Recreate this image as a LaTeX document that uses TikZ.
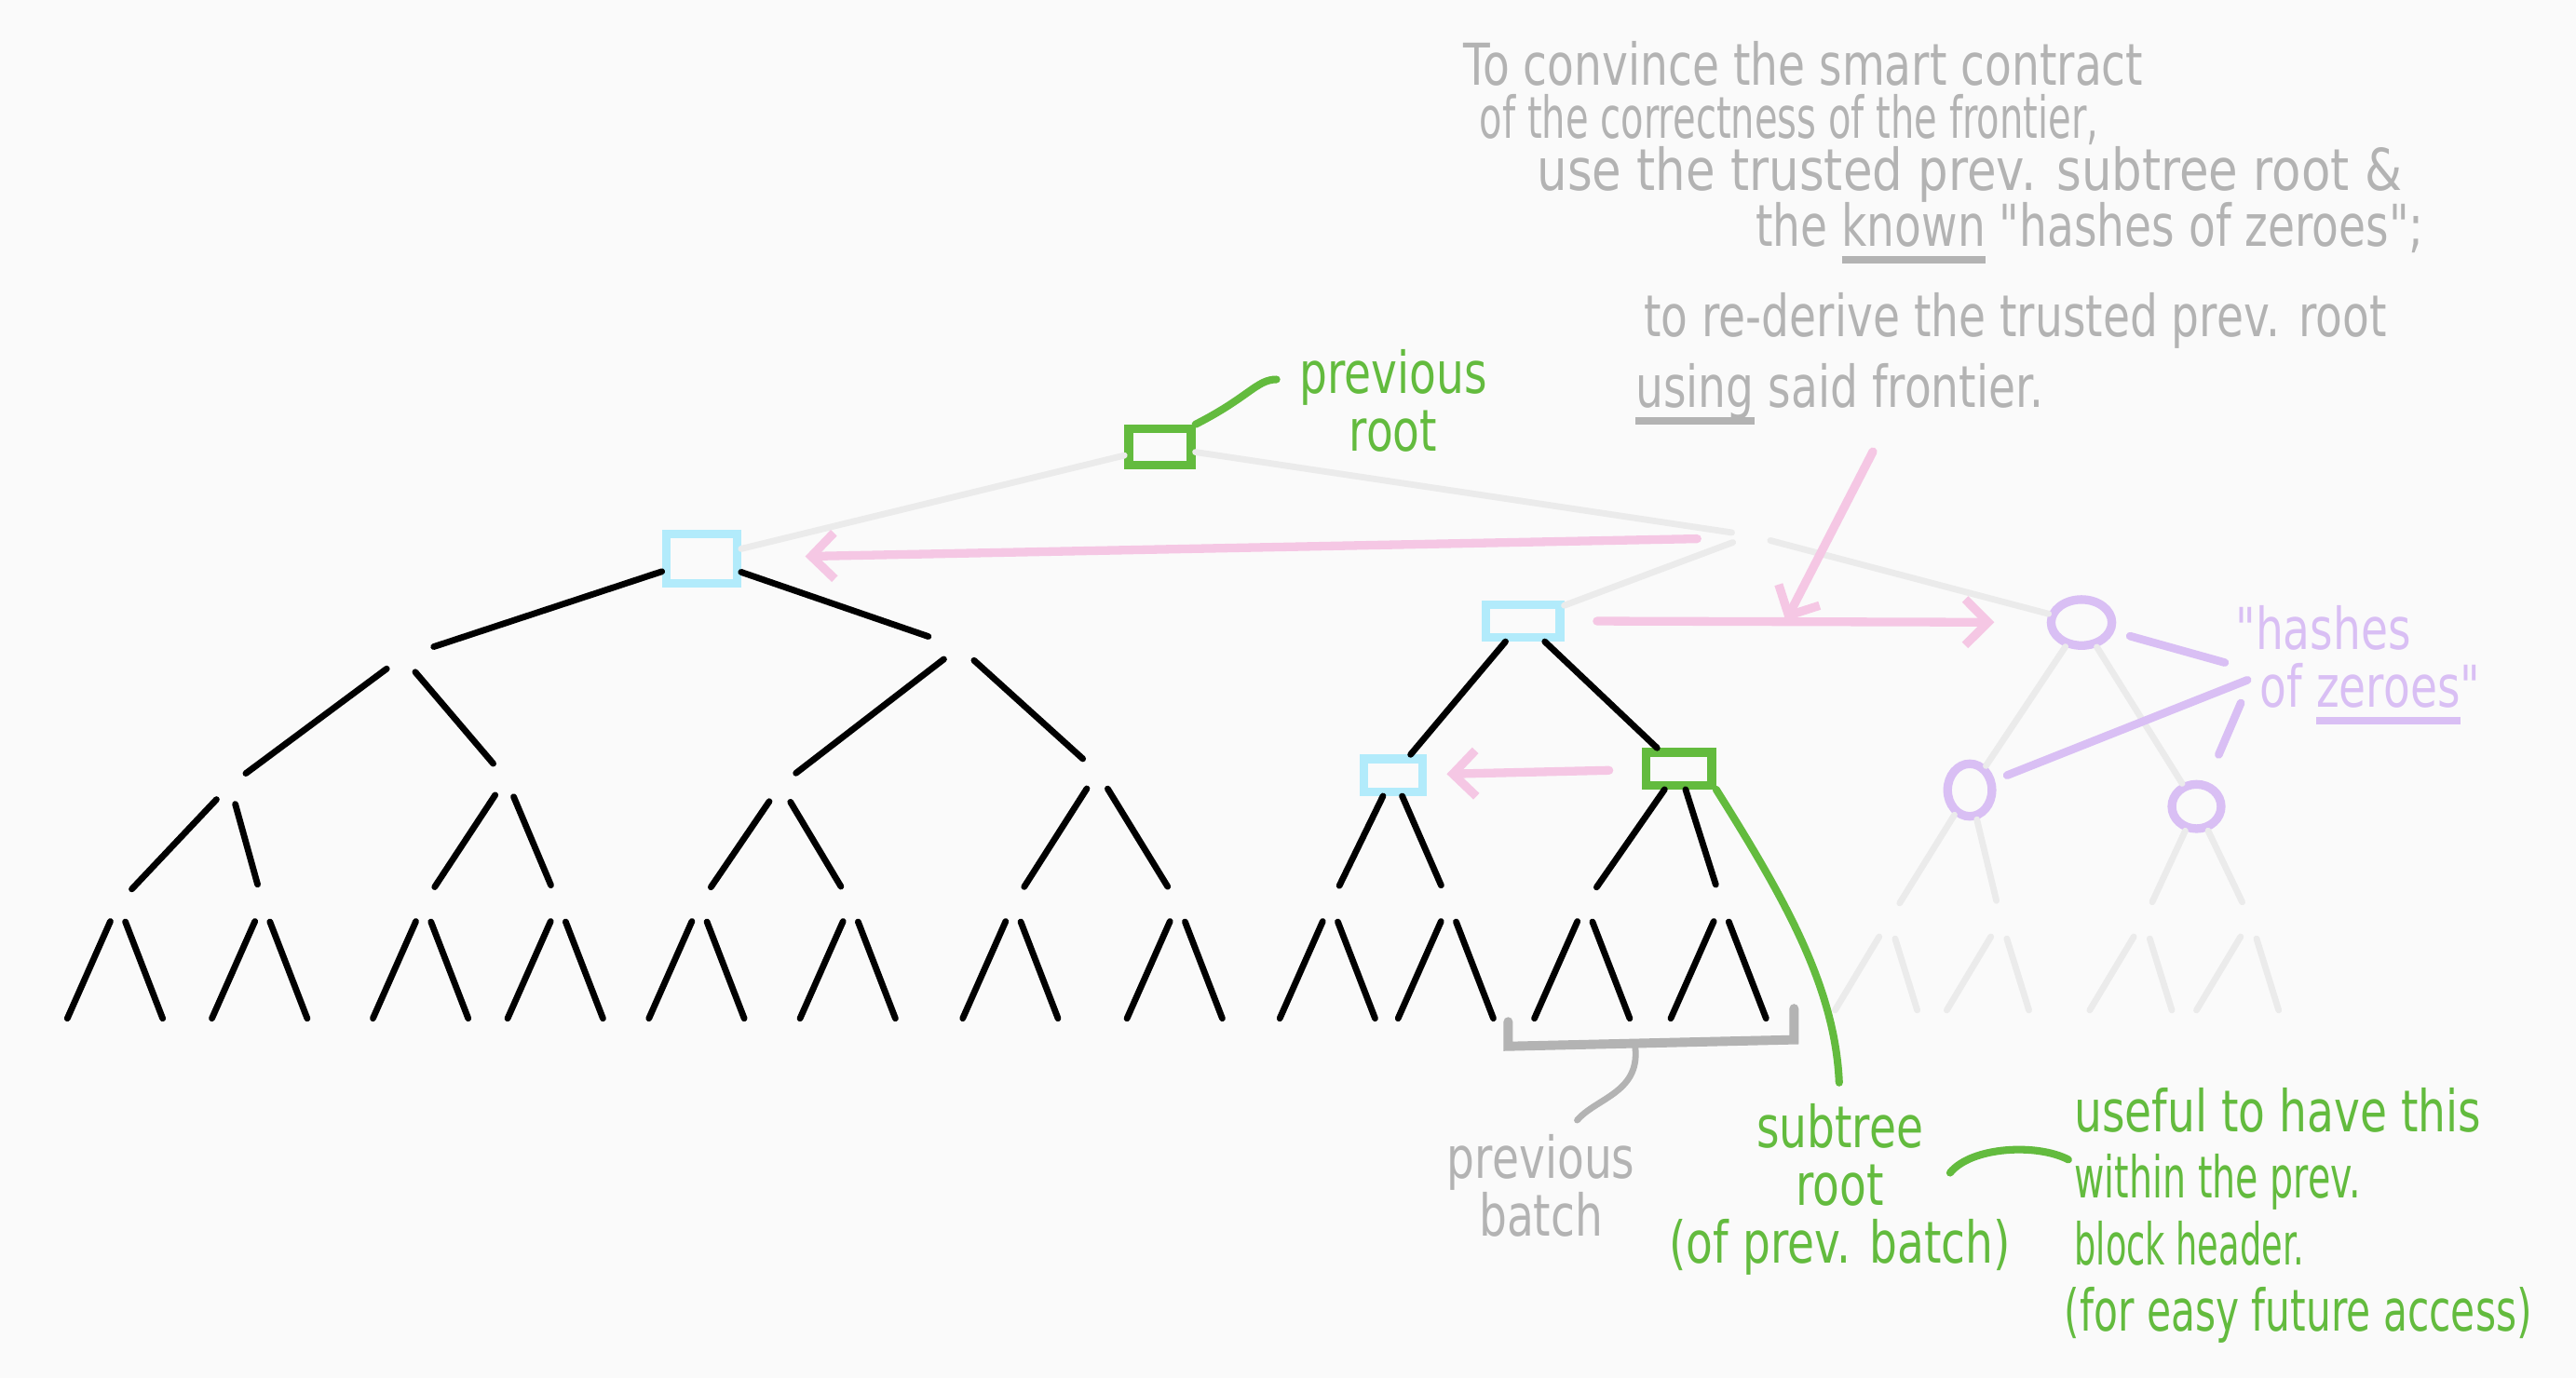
\documentclass[tikz,border=0pt]{standalone}
\usepackage{fontspec}
\newfontfamily\hand{DejaVu Sans}[FakeStretch=0.76]
\usetikzlibrary{arrows.meta,shapes.geometric,positioning}
\definecolor{paper}{HTML}{FAFAFA}
\definecolor{ghostgray}{HTML}{EBEBEB}
\definecolor{notegray}{HTML}{B3B3B3}
\definecolor{handgreen}{HTML}{63BB3E}
\definecolor{frontblue}{HTML}{B2EBFB}
\definecolor{arrowpink}{HTML}{F5C7E4}
\definecolor{zeropurple}{HTML}{D9BFF4}
\newcommand{\handul}[1]{\setbox0\hbox{#1}\rlap{\rule[-0.3em]{\wd0}{1.3pt}}\box0\relax}
\newcommand{\squeeze}[2]{\scalebox{#1}[1]{#2}}
\tikzstyle{treeedge} = [draw, line width=1.1pt, line cap=round,
    shorten <=1.2mm, shorten >=1.2mm]
\tikzstyle{faded} = [treeedge, draw=ghostgray]
\tikzstyle{frontier} = [draw=frontblue, line width=1.5pt, rectangle,
    inner sep=0pt, minimum width=4mm, minimum height=2mm]
\tikzstyle{batchroot} = [frontier, draw=handgreen]
\tikzstyle{zerohash} = [draw=zeropurple, line width=1.5pt, ellipse,
    inner sep=0pt, minimum width=3mm, minimum height=2.8mm]
\tikzstyle{pinkarrow} = [draw=arrowpink, line width=1.5pt, line cap=round,
    -{Straight Barb[length=1.4mm,width=2.8mm]}]
\tikzstyle{graynote} = [text=notegray, anchor=base west, inner sep=0pt]
\tikzstyle{greennote} = [text=handgreen, align=center, inner sep=0pt]
\tikzstyle{greenline} = [draw=handgreen, line width=1.3pt, line cap=round]
\tikzstyle{purpleline} = [draw=zeropurple, line width=1.4pt, line cap=round]
\tikzstyle{bracket} = [draw=notegray, line width=1.6pt, line cap=round]

\begin{document}
\begin{tikzpicture}[x=0.1mm, y=-0.1mm, font=\hand\fontsize{10}{11}\selectfont]
    \fill [paper] (0,0) rectangle (1568,839);
    \useasboundingbox (0,0) rectangle (1568,839);

    % We start by placing the marked nodes of the tree
    \node [batchroot, minimum width=3.8mm, minimum height=2.2mm] (root) at (706,272) {};
    \node [frontier, minimum width=4.3mm, minimum height=3mm] (l1a) at (427,340) {};
    \coordinate (l1b) at (1066,326);
    \coordinate (l2a) at (245,400);
    \coordinate (l2b) at (584,394);
    \node [frontier, minimum width=4.5mm] (l2c) at (927,378) {};
    \node [zerohash, minimum width=3.7mm] (l2d) at (1267,379) {};
    \coordinate (l3a) at (140,478);
    \coordinate (l3b) at (308,474);
    \coordinate (l3c) at (475,478);
    \coordinate (l3d) at (668,470);
    \node [frontier, minimum width=3.6mm] (l3e) at (848,472) {};
    \node [batchroot] (l3f) at (1022,468) {};
    \node [zerohash, minimum width=2.7mm, minimum height=3.2mm] (l3g) at (1199,481) {};
    \node [zerohash, minimum height=2.7mm] (l3h) at (1337,491) {};

    % level four, each with its two leaves
    \foreach \n/\x in {1/72,2/160,3/258,4/340,5/426,6/518,7/617,8/717,
                       9/810,10/882,11/965,12/1048} {
        \coordinate (n\n) at (\x,550);
        \coordinate (leaf\n a) at (\x-31,620);
        \coordinate (leaf\n b) at (\x+27,620);
        \draw [treeedge, shorten >=0pt] (n\n) -- (leaf\n a);
        \draw [treeedge, shorten >=0pt] (n\n) -- (leaf\n b);
    }
    \foreach \n/\x in {13/1150,14/1218,15/1305,16/1370} {
        \coordinate (n\n) at (\x,560);
        \coordinate (leaf\n a) at (\x-33,615);
        \coordinate (leaf\n b) at (\x+17,615);
        \draw [faded, shorten >=0pt] (n\n) -- (leaf\n a);
        \draw [faded, shorten >=0pt] (n\n) -- (leaf\n b);
    }

    % Once the nodes are placed, connecting them is easy.
    \draw [faded, shorten <=0pt, shorten >=0pt] (root) -- (l1a);
    \draw [faded, shorten <=0pt] (root) -- (l1b);
    \draw [faded, shorten >=0pt] (l1b) -- (l2c);
    \draw [faded, shorten >=0pt] (l1b) -- (l2d);
    \foreach \b in {l2a,l2b} {
        \draw [treeedge, shorten <=0pt, shorten >=2mm] (l1a) -- (\b);
    }
    \foreach \a/\b in {l2a/l3a,l2a/l3b,l2b/l3c,l2b/l3d} {
        \draw [treeedge] (\a) -- (\b);
    }
    \foreach \b in {l3e,l3f} {
        \draw [treeedge, shorten <=0pt, shorten >=0pt] (l2c) -- (\b);
    }
    \foreach \b in {l3g,l3h} {
        \draw [faded, shorten <=0pt, shorten >=0pt] (l2d) -- (\b);
    }
    \foreach \a/\b in {l3a/1,l3a/2,l3b/3,l3b/4,l3c/5,l3c/6,l3d/7,l3d/8} {
        \draw [treeedge] (\a) -- (n\b);
    }
    \foreach \a/\b in {l3e/9,l3e/10,l3f/11,l3f/12} {
        \draw [treeedge, shorten <=0pt] (\a) -- (n\b);
    }
    \foreach \a/\b in {l3g/13,l3g/14,l3h/15,l3h/16} {
        \draw [faded, shorten <=0pt] (\a) -- (n\b);
    }

    % the note on top
    \node [graynote] (note1) at (890,52) {To convince the smart contract};
    \node [graynote] (note2) at (900,84) {\squeeze{0.85}{of the correctness of the frontier,}};
    \node [graynote] (note3) at (935,116) {\squeeze{1.09}{use the trusted prev. subtree root \&}};
    \node [graynote] (note4) at (1068,150) {the \handul{known} "hashes of zeroes";};
    \node [graynote] (note5) at (1000,205) {to re-derive the trusted prev. root};
    \node [graynote] (note6) at (995,248) {\handul{using} said frontier.};

    % pink arrows
    \coordinate (pinkA) at (1033,328);
    \coordinate (pinkB) at (1140,275);
    \coordinate (pinkC) at (1087,378);
    \draw [pinkarrow, shorten >=3.9mm] (pinkA) -- (l1a);
    \draw [pinkarrow, shorten <=2mm, shorten >=3.2mm] (l2c) -- (l2d);
    \draw [pinkarrow] (pinkB) -- (pinkC);
    \draw [pinkarrow, shorten <=2mm, shorten >=1.2mm] (l3f) -- (l3e);

    % hashes of zeroes
    \node [text=zeropurple, align=left, anchor=west, inner sep=0pt,
           font=\hand\fontsize{10}{10}\selectfont] (hashes) at (1360,405)
           {"hashes\\\hspace*{1.5mm}of \handul{zeroes}"};
    \coordinate (hashB) at (1368,414);
    \coordinate (hashC) at (1364,428);
    \draw [purpleline, shorten <=1mm, shorten >=0.6mm] (l2d) -- (hashes.west);
    \draw [purpleline, shorten >=0.8mm] (hashB) -- (l3g);
    \draw [purpleline, shorten >=1.8mm] (hashC) -- (l3h);

    % green labels
    \node [greennote, font=\hand\fontsize{10}{9}\selectfont] (prevroot) at (848,244) {previous\\root};
    \coordinate (prevtip) at (777,231);
    \draw [greenline] (root.north east) .. controls (760,242) and (765,231) .. (prevtip);
    \node [greennote, font=\hand\fontsize{10}{10}\selectfont] (sublabel) at (1120,724)
          {subtree\\root\\(of prev. batch)};
    \draw [greenline, shorten >=1.2mm] (l3f.south east) .. controls (1085,545) and (1117,600) .. (sublabel.north);
    \node [greennote, align=left, anchor=west, font=\hand\fontsize{10}{11.5}\selectfont] (useful) at (1262,740)
          {useful to have this\\\squeeze{0.84}{within the prev.}\\\squeeze{0.78}{block header.}\\\hspace*{-0.6mm}\squeeze{0.9}{(for easy future access)}};
    \coordinate (arcL) at (1187,714);
    \coordinate (arcR) at (1259,706);
    \draw [greenline] (arcL) .. controls (1200,698) and (1240,696) .. (arcR);

    % the previous batch
    \coordinate (batchL) at (918,622);
    \coordinate (batchR) at (1092,614);
    \coordinate (batchtip) at (960,682);
    \draw [bracket] (batchL) -- (918,637) -- (1092,633) -- (batchR);
    \node [graynote, align=center, anchor=center, font=\hand\fontsize{10}{10}\selectfont] (prevbatch) at (938,722) {previous\\batch};
    \draw [bracket, line width=1.1pt] (995,635) .. controls (1000,665) and (972,668) .. (batchtip);
\end{tikzpicture}
\end{document}
